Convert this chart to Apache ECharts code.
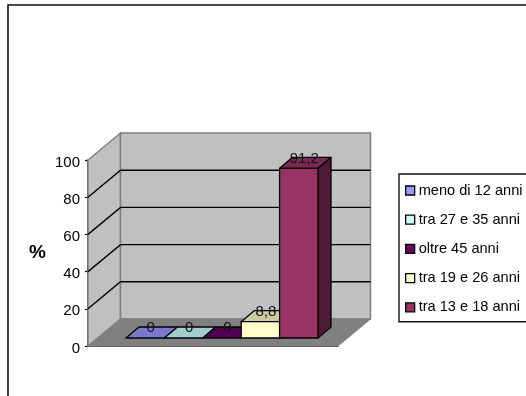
<!DOCTYPE html>
<html>
<head>
<meta charset="utf-8">
<style>html,body{margin:0;padding:0;background:#fff;overflow:hidden}#chart{width:526px;height:396px}</style>
<script src="https://cdn.jsdelivr.net/npm/echarts@6/dist/echarts.min.js"></script>
</head>
<body>
<div id="chart"></div>
<script>
// Age groups and their share in percent
const ageGroups = ['meno di 12 anni', 'tra 27 e 35 anni', 'oltre 45 anni', 'tra 19 e 26 anni', 'tra 13 e 18 anni'];
const shares = [0, 0, 0, 8.8, 91.2];
const yTicks = [0, 20, 40, 60, 80, 100];
const axisCategory = [''];

const frontColors = ['#9999FF', '#CCFFFF', '#660066', '#FFFFCC', '#993366'];
const FONT = 'Liberation Sans, Arial, sans-serif';
const FONT_SIZE = 14.6;

// Oblique projection of the chart box and of the bars inside it
const BOX_DX = 32.5, BOX_DY = -27;
const BAR_DX = 13, BAR_DY = -11;
const BAR_SHIFT_X = 9, BAR_SHIFT_Y = -8;
const BAR_GROUP_RATIO = 0.768;

function shade(hex, k) {
  const n = parseInt(hex.slice(1), 16);
  const c = [(n >> 16) & 255, (n >> 8) & 255, n & 255].map(v => Math.round(v * k));
  return 'rgb(' + c.join(',') + ')';
}

// Side wall, back wall, floor and the gridlines folded across the two walls
function renderBox(params, api) {
  const slot = api.size([1, 0])[0];
  const bottom = api.coord([0, 0]);
  const x0 = bottom[0] - slot / 2, x1 = x0 + slot;
  const y0 = bottom[1];
  const yTop = api.coord([0, yTicks[yTicks.length - 1]])[1];
  const wall = { fill: '#C0C0C0', stroke: '#808080', lineWidth: 1.5 };
  const children = [
    { type: 'polygon', shape: { points: [[x0, y0], [x0 + BOX_DX, y0 + BOX_DY], [x0 + BOX_DX, yTop + BOX_DY], [x0, yTop]] }, style: wall },
    { type: 'polygon', shape: { points: [[x0 + BOX_DX, y0 + BOX_DY], [x1 + BOX_DX, y0 + BOX_DY], [x1 + BOX_DX, yTop + BOX_DY], [x0 + BOX_DX, yTop + BOX_DY]] }, style: wall },
    { type: 'polygon', shape: { points: [[x0, y0], [x1, y0], [x1 + BOX_DX, y0 + BOX_DY], [x0 + BOX_DX, y0 + BOX_DY]] }, style: { fill: '#808080', stroke: '#808080', lineWidth: 1 } }
  ];
  yTicks.slice(1, -1).forEach(t => {
    const y = api.coord([0, t])[1];
    children.push({
      type: 'polyline',
      shape: { points: [[x0, y], [x0 + BOX_DX, y + BOX_DY], [x1 + BOX_DX, y + BOX_DY]] },
      style: { fill: null, stroke: '#000', lineWidth: 1.4 }
    });
  });
  return { type: 'group', children };
}

// One oblique bar: side, top and front faces, then its value label
function renderBar(index) {
  return function (params, api) {
    const value = api.value(1);
    const slot = api.size([1, 0])[0];
    const top = api.coord([0, value]);
    const base = api.coord([0, 0]);
    const w = slot * BAR_GROUP_RATIO / ageGroups.length;
    const x0 = top[0] + BAR_SHIFT_X - w * ageGroups.length / 2 + index * w;
    const x1 = x0 + w;
    const yT = top[1] + BAR_SHIFT_Y, yB = base[1] + BAR_SHIFT_Y;
    const color = frontColors[index];
    const edge = { stroke: '#000', lineWidth: 1.3, lineJoin: 'round' };
    const children = [];
    if (value > 0) {
      children.push({ type: 'polygon', shape: { points: [[x1, yT], [x1 + BAR_DX, yT + BAR_DY], [x1 + BAR_DX, yB + BAR_DY], [x1, yB]] }, style: Object.assign({ fill: shade(color, 0.5) }, edge) });
    }
    children.push({ type: 'polygon', shape: { points: [[x0, yT], [x1, yT], [x1 + BAR_DX, yT + BAR_DY], [x0 + BAR_DX, yT + BAR_DY]] }, style: Object.assign({ fill: shade(color, 0.8) }, edge) });
    if (value > 0) {
      children.push({ type: 'rect', shape: { x: x0, y: yT, width: w, height: yB - yT }, style: Object.assign({ fill: color }, edge) });
    }
    children.push({
      type: 'text',
      z2: 10,
      style: {
        x: (x0 + x1) / 2 + BAR_DX / 2 - 1,
        y: yT + BAR_DY + 1,
        text: String(value).replace('.', ','),
        font: '15px ' + FONT,
        fill: '#111',
        align: 'center',
        verticalAlign: 'middle'
      }
    });
    return { type: 'group', children };
  };
}

const chart = echarts.init(document.getElementById('chart'));
chart.setOption({
  animation: false,
  backgroundColor: '#fff',
  graphic: [{
    type: 'rect',
    z: -10,
    silent: true,
    shape: { x: 8, y: 5, width: 600, height: 500 },
    style: { fill: '#fff', stroke: '#111', lineWidth: 1.6 }
  }],
  legend: {
    data: ageGroups,
    orient: 'vertical',
    left: 399,
    top: 174,
    padding: [9, 12, 7, 6],
    itemWidth: 9,
    itemHeight: 9,
    itemGap: 14.2,
    icon: 'rect',
    borderColor: '#111',
    borderWidth: 1.4,
    backgroundColor: '#fff',
    selectedMode: false,
    itemStyle: { borderColor: '#000', borderWidth: 1.3 },
    textStyle: { fontFamily: FONT, fontSize: FONT_SIZE, color: '#000', padding: [0, 0, 0, -1] }
  },
  grid: { left: 88, top: 160, width: 250, height: 186, containLabel: false },
  xAxis: {
    type: 'category',
    data: axisCategory,
    axisLine: { lineStyle: { color: '#000', width: 1.5 } },
    axisTick: { length: 3, lineStyle: { color: '#000', width: 1.2 } },
    axisLabel: { show: false }
  },
  yAxis: {
    type: 'value',
    min: yTicks[0],
    max: yTicks[yTicks.length - 1],
    interval: 20,
    name: '%',
    nameLocation: 'middle',
    nameRotate: 0,
    nameGap: 42,
    nameTextStyle: { fontFamily: FONT, fontSize: 19, fontWeight: 'bold', color: '#000', padding: [2, 0, 0, 0] },
    splitLine: { show: false },
    axisLine: { show: true, lineStyle: { color: '#000', width: 1.5 } },
    axisTick: { show: true, length: 3, lineStyle: { color: '#000', width: 1.2 } },
    axisLabel: { fontFamily: FONT, fontSize: 15, color: '#000', margin: 8, verticalAlign: 'top', lineHeight: 15, padding: [-5, 0, 0, 0] }
  },
  series: [{
    type: 'custom',
    silent: true,
    z: 1,
    clip: false,
    renderItem: renderBox,
    data: [[0, 0]],
    encode: { x: 0, y: 1 }
  }].concat(ageGroups.map((name, i) => ({
    type: 'custom',
    name,
    z: 2 + i,
    clip: false,
    itemStyle: { color: frontColors[i] },
    renderItem: renderBar(i),
    data: [[0, shares[i]]],
    encode: { x: 0, y: 1 }
  })))
});
</script>
</body>
</html>
